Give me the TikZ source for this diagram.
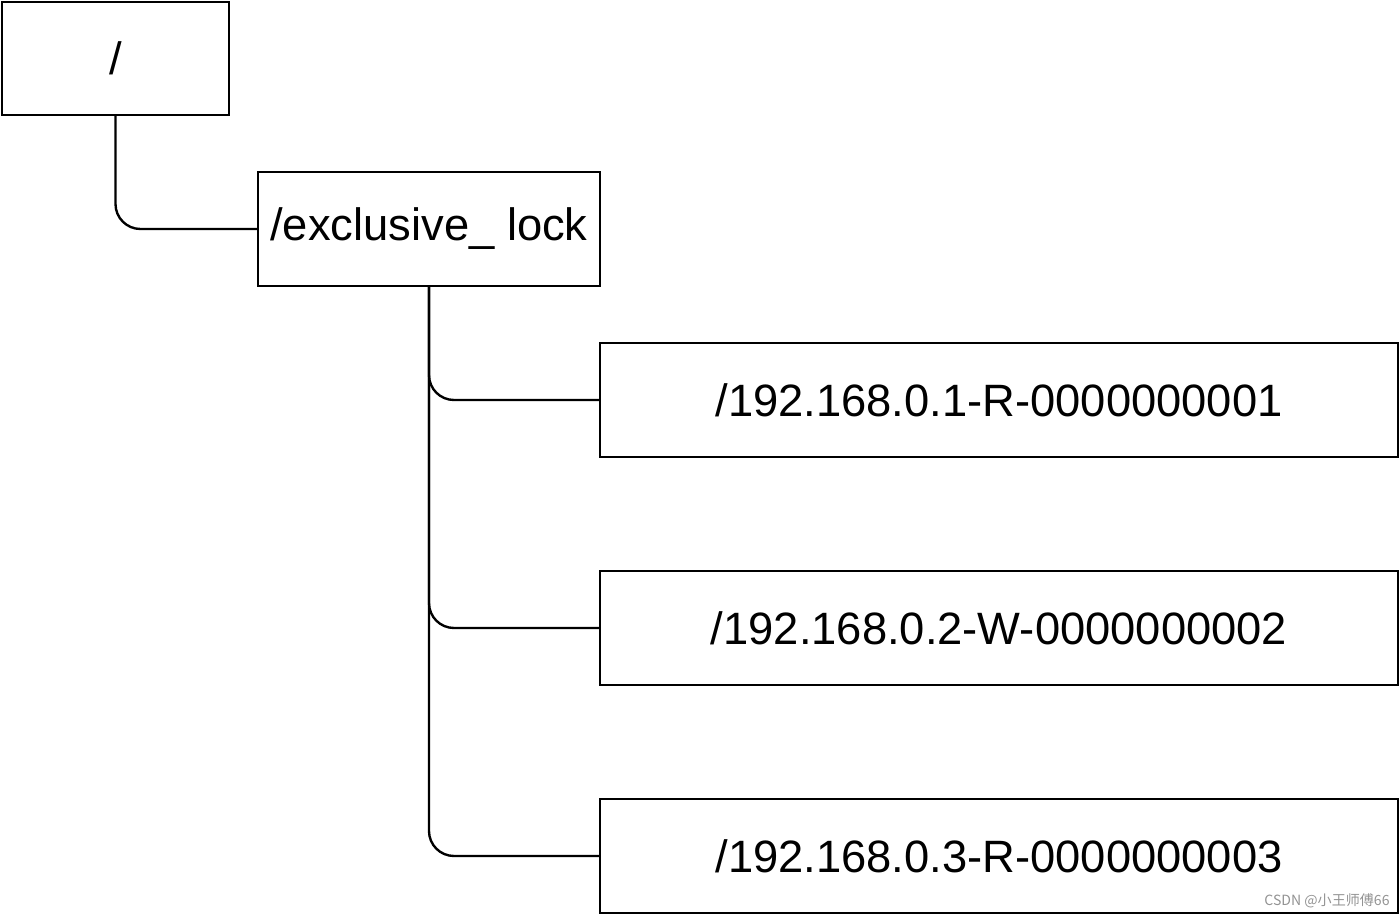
\documentclass[tikz,border=0pt]{standalone}
\usepackage{fontspec}
\setmainfont{Liberation Sans}
\newfontfamily\cjk{Noto Sans CJK SC}
\usetikzlibrary{positioning}

\begin{document}
\begin{tikzpicture}[
  font=\fontsize{25.8}{30}\selectfont,
  box/.style={draw,line width=1.35pt,minimum height=2.28cm,inner sep=0pt,align=center},
  link/.style={line width=1.35pt,rounded corners=0.5cm},
]
\useasboundingbox (0,0) rectangle (28,-18.3);

\node[box,minimum width=4.54cm,minimum height=2.26cm] (root) at (2.31,-1.17) {/};
\node[box,minimum width=6.84cm] (lock) at (8.58,-4.58) {/exclusive\_ lock};

\node[box,minimum width=15.96cm] (rone) at (19.98,-8.0) {/192.168.0.1-R-0000000001};
\node[box,minimum width=15.96cm] (wtwo) at (19.98,-12.56) {/192.168.0.2-W-0000000002};
\node[box,minimum width=15.96cm] (rthree) at (19.98,-17.12) {/192.168.0.3-R-0000000003};

\draw[link] (root.south) |- (lock.west);
\draw[link] (lock.south) |- (rone.west);
\draw[link] (lock.south) |- (wtwo.west);
\draw[link] (lock.south) |- (rthree.west);

% watermark
\node[font=\cjk\fontsize{8}{9}\selectfont,text=gray!85] (mark) at (26.54,-18.02) {CSDN @小王师傅66};

\end{tikzpicture}
\end{document}
